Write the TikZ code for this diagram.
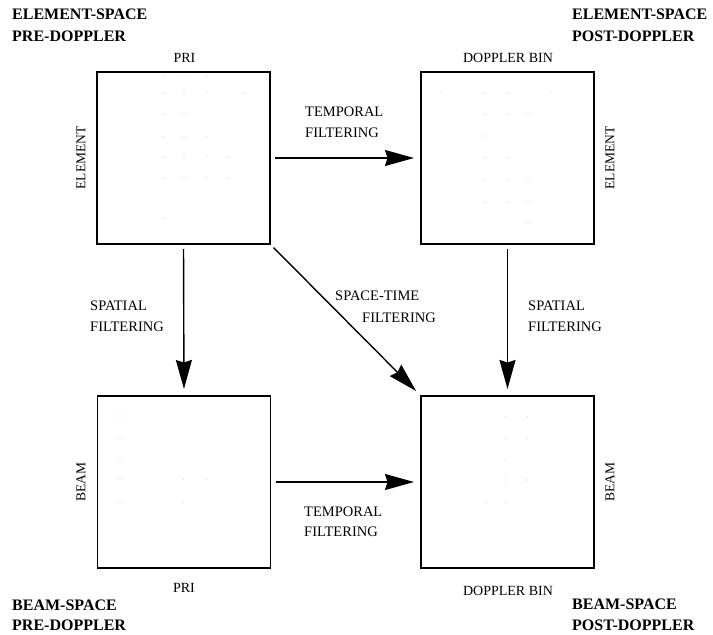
\documentclass[tikz,border=0pt]{standalone}
\usepackage{fontspec}
\setmainfont{Liberation Serif}
\usetikzlibrary{arrows.meta}
\begin{document}
\begin{tikzpicture}[x=1bp,y=-1bp,
  box/.style={draw,line width=1.4bp,minimum width=173bp,minimum height=172bp,inner sep=0pt,outer sep=0pt},
  title/.style={font=\fontsize{16bp}{18bp}\selectfont\bfseries,anchor=base west,inner sep=0pt},
  lab/.style={font=\fontsize{14.5bp}{17bp}\selectfont,anchor=base west,inner sep=0pt},
  axl/.style={font=\fontsize{14bp}{15bp}\selectfont,anchor=base,inner sep=0pt},
  sidel/.style={font=\fontsize{13.5bp}{15bp}\selectfont,rotate=90,inner sep=0pt},
  flow/.style={line width=1.4bp,-{Stealth[length=29bp,width=16bp,inset=2.5bp]},shorten <=5bp,shorten >=7bp},
  dot/.style={fill=gray!55,draw=none}]
\useasboundingbox (0,0) rectangle (713,635);

% boxes
\node[box] (tl) at (183.5,158) {};
\node[box] (tr) at (507.5,158) {};
\node[box] (bl) at (184,482) {};
\node[box] (br) at (507.5,482) {};

% titles
\node[title] (t1) at (12,20) {ELEMENT-SPACE};
\node[title] (t2) at (12,42) {PRE-DOPPLER};
\node[title] (t3) at (572,20) {ELEMENT-SPACE};
\node[title] (t4) at (572,42) {POST-DOPPLER};
\node[title] (t5) at (12,610) {BEAM-SPACE};
\node[title] (t6) at (12,630) {PRE-DOPPLER};
\node[title] (t7) at (572,609) {BEAM-SPACE};
\node[title] (t8) at (572,630) {POST-DOPPLER};

% axis labels
\node[axl] (a1) at (184.5,63) {PRI};
\node[axl] (a2) at (508,63) {DOPPLER BIN};
\node[axl] (a3) at (184,592) {PRI};
\node[axl] (a4) at (508,595) {DOPPLER BIN};
\node[sidel] (s1) at (81,158) {ELEMENT};
\node[sidel] (s2) at (610,158) {ELEMENT};
\node[sidel] (s3) at (81,482) {BEAM};
\node[sidel] (s4) at (610,482) {BEAM};

% arrows
\draw[flow] (tl.east) -- (tr.west);
\draw[flow] (bl.east) -- (br.west);
\draw[flow] (tl.south) -- (bl.north);
\draw[flow] (tr.south) -- (br.north);
\draw[flow] (tl.south east) -- (br.north west);

% arrow labels
\node[lab] (l1) at (305,117) {TEMPORAL};
\node[lab] (l2) at (305,138) {FILTERING};
\node[lab] (l3) at (304,516) {TEMPORAL};
\node[lab] (l4) at (304,536) {FILTERING};
\node[lab] (l5) at (90,310) {SPATIAL};
\node[lab] (l6) at (90,331) {FILTERING};
\node[lab] (l7) at (528,310) {SPATIAL};
\node[lab] (l8) at (528,331) {FILTERING};
\node[lab] (l9) at (335,300) {SPACE-TIME};
\node[lab] (l10) at (362,322) {FILTERING};

% faint data dots
\foreach \p in {(163,76),(184,76),(206,76),
  (163,93),(184,93),(206,93),(245,93),
  (163,114),(184,114),
  (163,137),(184,137),(206,137),
  (163,157),(184,157),(206,157),(227,157),
  (163,178),(184,178),(206,178),(227,178),
  (163,218),
  (442,93),(485,93),(507,93),(550,93),
  (485,114),(507,114),(528,114),
  (485,136),
  (485,158),(507,158),
  (485,180),(507,180),(528,180),
  (485,202),(507,202),(528,202),
  (528,223),
  (120,416),(120,438),(120,460),
  (120,479),(183,479),(206,479),
  (120,502),(183,502),
  (506,417),(527,417),(506,438),(527,438),(506,461),
  (506,480),(527,480),(486,502),(506,502)}
  \fill[dot] \p circle (0.7bp);
\end{tikzpicture}
\end{document}
